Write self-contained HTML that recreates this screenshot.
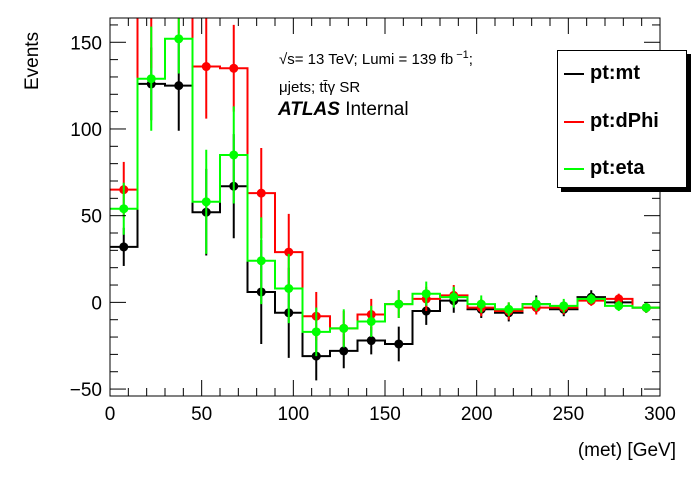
<!DOCTYPE html>
<html><head><meta charset="utf-8"><style>
body{margin:0;background:#fff;font-family:"Liberation Sans",sans-serif}
</style></head><body>
<svg id="c" width="696" height="472" xmlns="http://www.w3.org/2000/svg"></svg>
<script>
const binEdges=[0,15,30,45,60,75,90,105,120,135,150,165,180,195,210,225,240,255,270,285,300];
const mtVals=[32,126,125,52,67,6,-6,-31,-28,-22,-24,-5,1,-4,-6,-1,-4,3,0,-3];
const mtErr=[11,21,26,25,30,30,26,14,10,8,10,8,7,5,5,5,4,4,3,3];
const dphiVals=[65,175,200,136,135,63,29,-8,-15,-7,-1,2,4,-3,-5,-3,-3,1,2,-3];
const dphiErr=[16,40,45,30,25,26,22,14,10,9,8,7,6,5,5,4,4,3,3,3];
const etaVals=[54,129,152,58,85,24,8,-17,-15,-11,-1,5,3,-1,-4,-1,-2,2,-2,-3];
const etaErr=[15,30,20,30,28,25,20,14,11,9,8,7,6,5,4,4,4,3,3,3];
const yTicks=[-50,0,50,100,150];
const xTicks=[0,50,100,150,200,250,300];
const X0=110,X1=660,Y0=18,Y1=396,xmin=0,xmax=300,ymin=-54,ymax=164;
const sx=v=>X0+(v-xmin)/(xmax-xmin)*(X1-X0);
const sy=v=>Y1-(v-ymin)/(ymax-ymin)*(Y1-Y0);
const svg=document.getElementById('c');const NS='http://www.w3.org/2000/svg';
function mk(t,a,p){const e=document.createElementNS(NS,t);for(const k in a)e.setAttribute(k,a[k]);(p||svg).appendChild(e);return e;}
const clip=mk('clipPath',{id:'cp'});mk('rect',{x:X0,y:Y0,width:X1-X0,height:Y1-Y0},clip);
const g=mk('g',{'clip-path':'url(#cp)'});
function series(vals,err,col,name){
  const s=mk('g',{},g);
  
  
  let d='';
  vals.forEach((v,i)=>{d+=(i?'L':'M')+sx(binEdges[i])+','+sy(v)+'H'+sx(binEdges[i+1]);});
  const p=mk('path',{d:d,fill:'none',stroke:col,'stroke-width':2},s);
  
  
  vals.forEach((v,i)=>{
    const cx=sx((binEdges[i]+binEdges[i+1])/2);
    const e=mk('line',{x1:cx,x2:cx,y1:sy(v-err[i]),y2:sy(v+err[i]),stroke:col,'stroke-width':2},s);
    
    
    const c=mk('circle',{cx:cx,cy:sy(v),r:4.5,fill:col},s);
    
    
  });
}
series(mtVals,mtErr,'#000','pt-mt');
series(dphiVals,dphiErr,'#f00','pt-dphi');
series(etaVals,etaErr,'#0f0','pt-eta');
mk('rect',{x:X0,y:Y0,width:X1-X0,height:Y1-Y0,fill:'none',stroke:'#000','stroke-width':1});
for(let v=-50;v<=160;v+=10){const y=sy(v);const L=(v%50===0)?16:8;
 mk('line',{x1:X0,x2:X0+L,y1:y,y2:y,stroke:'#000'});mk('line',{x1:X1,x2:X1-L,y1:y,y2:y,stroke:'#000'});}
yTicks.forEach(v=>{const t=mk('text',{x:X0-8,y:sy(v)+7,'text-anchor':'end','font-size':19});t.textContent=(v<0?'\u2212'+(-v):v);
 });
for(let v=0;v<=300;v+=10){const x=sx(v);const L=(v%50===0)?16:8;
 mk('line',{x1:x,x2:x,y1:Y1,y2:Y1-L,stroke:'#000'});mk('line',{x1:x,x2:x,y1:Y0,y2:Y0+L,stroke:'#000'});}
xTicks.forEach(v=>{const t=mk('text',{x:sx(v),y:Y1+24,'text-anchor':'middle','font-size':19});t.textContent=v;
 });
</script>
<div style="position:absolute;left:22px;top:20px;width:24px;height:70px;">
<div style="position:absolute;left:0;top:70px;transform:rotate(-90deg);transform-origin:0 0;font-size:19px;white-space:nowrap;width:70px;text-align:left">Events</div></div>
<div style="position:absolute;right:20px;top:440px;font-size:19px">(met) [GeV]</div>
<div style="position:absolute;left:279px;top:49px;font-size:15px">√s= 13 TeV; Lumi = 139 fb<sup style="font-size:11px">&nbsp;−1</sup>;</div>
<div style="position:absolute;left:279px;top:79px;font-size:15px">μjets; tt̄γ SR</div>
<div style="position:absolute;left:278px;top:99px;font-size:19px"><b><i>ATLAS</i></b> Internal</div>
<div style="position:absolute;left:557px;top:50px;width:128px;height:136px;border:1px solid #000;background:#fff;box-shadow:4px 4px 0 #000">
 <div style="position:absolute;left:6px;top:11px;font-size:20px;font-weight:bold"><span style="display:inline-block;width:20px;height:2px;background:#000;vertical-align:middle;margin-right:6px"></span>pt:mt</div>
 <div style="position:absolute;left:6px;top:59px;font-size:20px;font-weight:bold"><span style="display:inline-block;width:20px;height:2px;background:#f00;vertical-align:middle;margin-right:6px"></span>pt:dPhi</div>
 <div style="position:absolute;left:6px;top:106px;font-size:20px;font-weight:bold"><span style="display:inline-block;width:20px;height:2px;background:#0f0;vertical-align:middle;margin-right:6px"></span>pt:eta</div>
</div>
</body></html>
